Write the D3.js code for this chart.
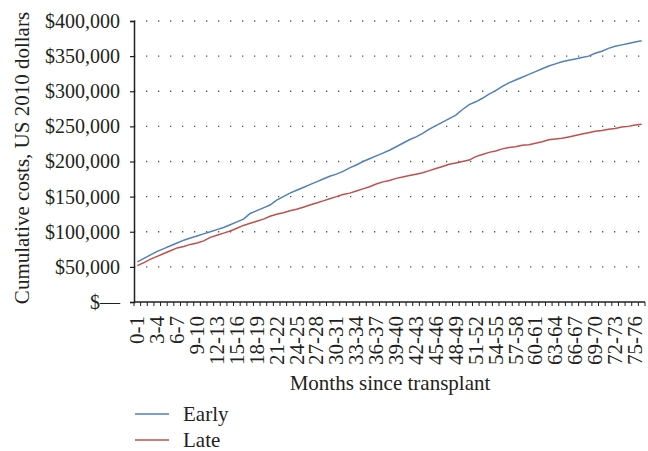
<!DOCTYPE html>
<html>
<head>
<meta charset="utf-8">
<script src="https://cdn.jsdelivr.net/npm/d3@7"></script>
<style>
  body { margin: 0; background: #fff; }
  .chart text { font-family: "Liberation Serif", "DejaVu Serif", serif; fill: #231f20; }
  .axis path, .axis line { stroke: #231f20; }
</style>
</head>
<body>
<div class="chart"></div>
<script>
// month intervals 0-1 ... 76-77
const months = d3.range(77).map(i => `${i}-${i + 1}`);

// cumulative costs, US 2010 dollars (thousands)
const early = [57, 62, 67, 72, 76, 80, 84, 88, 91, 94,
               97, 100, 103, 106, 110, 114, 118, 126, 130, 134,
               138, 145, 150, 155, 159, 163, 167, 171, 175, 179,
               182, 186, 191, 195, 200, 204, 208, 212, 216, 221,
               226, 231, 235, 240, 246, 251, 256, 261, 266, 274,
               281, 285, 290, 296, 301, 307, 312, 316, 320, 324,
               328, 332, 336, 339, 342, 344, 346, 348, 350, 354,
               357, 361, 364, 366, 368, 370, 372];
const late = [51.7, 56, 61, 65, 69, 73, 77, 79, 82, 84,
              87, 92, 95, 98, 101, 105, 109, 112, 115, 118,
              122, 125, 127, 130, 132, 135, 138, 141, 144, 147,
              150, 153, 155, 158, 161, 164, 168, 171, 173, 176,
              178, 180, 182, 184, 187, 190, 193, 196, 198, 200,
              202, 207, 210, 213, 215, 218, 220, 221, 223, 224,
              226, 228, 231, 232, 233, 235, 237, 239, 241, 243,
              244, 246, 247, 249, 250, 252, 253];

const series = [
    {name: "Early", values: early, color: "#4f81bd"},
    {name: "Late", values: late, color: "#c0504d"}
];

const yTicks = d3.range(0, 400001, 50000);
const xLabels = months.filter((d, i) => i % 3 === 0);

// margin convention
const margin = {top: 21, right: 3, bottom: 149, left: 134};
const W = 648, H = 451;
const width = W - margin.left - margin.right,
      height = H - margin.top - margin.bottom;

const svg = d3.select(".chart").append("svg")
    .attr("width", W)
    .attr("height", H);

const g = svg.append("g")
    .attr("transform", `translate(${margin.left},${margin.top})`);

const xScale = d3.scaleBand().domain(months).range([0, width]).padding(0);
const yScale = d3.scaleLinear().domain([0, 400000]).range([height, 0]);

// dotted gridlines
g.append("g").attr("class", "grid")
    .selectAll("line")
    .data(yTicks.filter(d => d > 0))
    .join("line")
    .attr("x1", 0)
    .attr("x2", width)
    .attr("y1", d => yScale(d))
    .attr("y2", d => yScale(d))
    .attr("stroke", "#555")
    .attr("stroke-width", 1.3)
    .attr("stroke-dasharray", "1.3 10.7");

// y axis
const fmt = d3.format(",");
const yAxis = d3.axisLeft(yScale)
    .tickValues(yTicks)
    .tickSize(4)
    .tickPadding(10)
    .tickFormat(d => d === 0 ? "$\u2014" : "$" + fmt(d));

g.append("g").attr("class", "axis y-axis")
    .call(yAxis)
    .call(s => s.select(".domain").attr("stroke-width", 1.5))
    .call(s => s.selectAll(".tick line").attr("stroke-width", 1.2))
    .call(s => s.selectAll("text").style("font-size", "20px"));

// x axis
const xAxisG = g.append("g").attr("class", "axis x-axis")
    .attr("transform", `translate(0,${height})`);

xAxisG.append("line")
    .attr("x1", 0).attr("x2", width)
    .attr("stroke", "#231f20").attr("stroke-width", 1.5);

xAxisG.selectAll(".mtick")
    .data(months.concat(["end"]))
    .join("line")
    .attr("class", "mtick")
    .attr("x1", d => d === "end" ? width : xScale(d))
    .attr("x2", d => d === "end" ? width : xScale(d))
    .attr("y1", 0).attr("y2", 4)
    .attr("stroke", "#231f20").attr("stroke-width", 1);

xAxisG.selectAll(".xlabel")
    .data(xLabels)
    .join("text")
    .attr("class", "xlabel")
    .attr("transform", d => `translate(${xScale(d) + xScale.bandwidth() / 2},14) rotate(-90)`)
    .attr("text-anchor", "end")
    .attr("dy", "0.33em")
    .style("font-size", "21px")
    .text(d => d);

// lines
const line = d3.line()
    .x((d, i) => xScale(months[i]) + xScale.bandwidth() / 2)
    .y(d => yScale(d * 1000));

g.selectAll(".series")
    .data(series)
    .join("path")
    .attr("class", "series")
    .attr("fill", "none")
    .attr("stroke", d => d.color)
    .attr("stroke-width", 1.5)
    .attr("d", d => line(d.values));

// axis titles
svg.append("text")
    .attr("x", 390)
    .attr("y", 390)
    .attr("text-anchor", "middle")
    .style("font-size", "21px")
    .text("Months since transplant");

svg.append("text")
    .attr("transform", "translate(29,158) rotate(-90)")
    .attr("text-anchor", "middle")
    .style("font-size", "21px")
    .text("Cumulative costs, US 2010 dollars");

// legend
const legend = svg.append("g").attr("transform", "translate(135,414)");
const items = legend.selectAll("g")
    .data(series)
    .join("g")
    .attr("transform", (d, i) => `translate(0,${i * 26})`);
items.append("line")
    .attr("x1", 0).attr("x2", 34)
    .attr("stroke", d => d.color)
    .attr("stroke-width", 1.3);
items.append("text")
    .attr("x", 48)
    .attr("dy", "0.35em")
    .style("font-size", "21px")
    .text(d => d.name);
</script>
</body>
</html>
